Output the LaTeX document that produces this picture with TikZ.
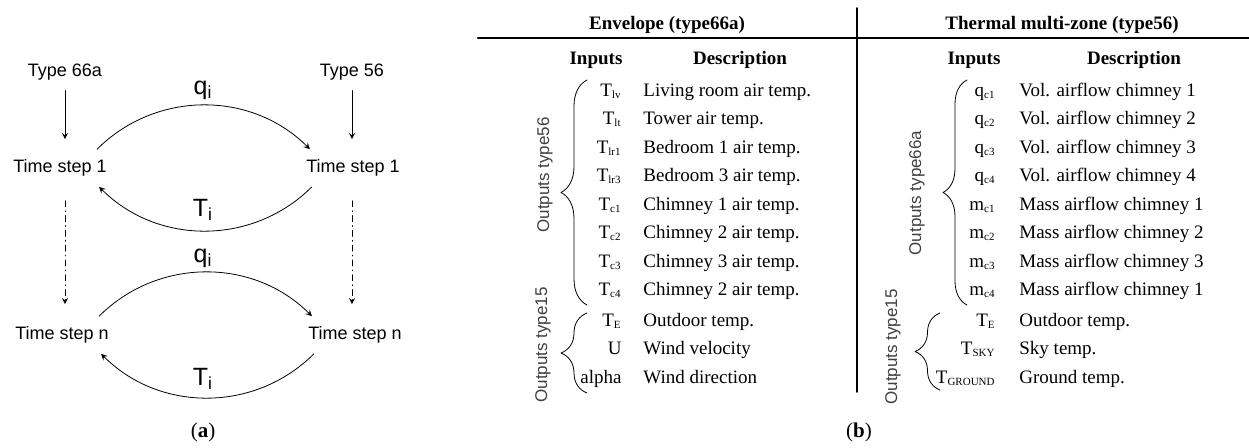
\documentclass[tikz,border=0pt]{standalone}
\usepackage{fontspec}
\setmainfont{Liberation Serif}
\setsansfont{Liberation Sans}
\usetikzlibrary{decorations.pathreplacing}
\newcommand{\sbs}[1]{\textsubscript{\fontsize{5.5}{6}\selectfont #1}}
\tikzset{
	tsbox/.style={font=\sffamily\fontsize{9}{10}\selectfont, inner sep=2pt},
	flow/.style={font=\sffamily\fontsize{12.5}{14}\selectfont, inner sep=0pt},
	inp/.style={anchor=east, inner sep=0pt, text height=7pt, text depth=2pt, font=\fontsize{9.5}{11}\selectfont},
	dsc/.style={anchor=west, inner sep=0pt, text height=7pt, text depth=2pt, font=\fontsize{9.5}{11}\selectfont},
	head/.style={inner sep=0pt, font=\bfseries\fontsize{9.5}{11}\selectfont},
	side/.style={rotate=90, inner sep=0pt, text=black!75, font=\sffamily\fontsize{8.5}{10}\selectfont},
	curly/.style={decorate, decoration={brace, amplitude=#1}},
}
\begin{document}
\begin{tikzpicture}[x=0.5pt, y=0.5pt, line join=round, line cap=round, >=stealth]
					\useasboundingbox (0,0) rectangle (1249,447);
					% (a) time steps
					\node[tsbox] (T66) at (65,375) {Type 66a};
					\node[tsbox] (T56) at (352,375) {Type 56};
					\node[tsbox] (S1L) at (60,279) {Time step 1};
					\node[tsbox] (S1R) at (353,279) {Time step 1};
					\node[tsbox] (SnL) at (62,112) {Time step n};
					\node[tsbox] (SnR) at (355,112) {Time step n};
					\node[flow] (q1) at (203,357) {q\textsubscript{i}};
					\node[flow] (t1) at (203,237) {T\textsubscript{i}};
					\node[flow] (q2) at (203,189) {q\textsubscript{i}};
					\node[flow] (t2) at (203,68) {T\textsubscript{i}};
					\node[font=\fontsize{10.5}{12}\selectfont] (capA) at (203,15) {(\textbf{a})};
					\draw[->, shorten <=3pt, shorten >=8pt] (T66.south) -- (T66.south |- S1L.north);
					\draw[->, shorten <=3pt, shorten >=8pt] (T56.south) -- (T56.south |- S1R.north);
					\draw[->, dashdotted, shorten <=10pt, shorten >=9pt] (S1L.south -| T66.south) -- (SnL.north -| T66.south);
					\draw[->, dashdotted, shorten <=10pt, shorten >=9pt] (S1R.south -| T56.south) -- (SnR.north -| T56.south);
					\draw[->] ([xshift=-7pt,yshift=3pt]S1L.north east) to[bend left=45] ([xshift=4pt,yshift=3pt]S1R.north west);
					\draw[->] ([xshift=5pt,yshift=-3pt]S1R.south west) to[bend left=45] ([xshift=-6pt,yshift=-3pt]S1L.south east);
					\draw[->] ([xshift=-7pt,yshift=3pt]SnL.north east) to[bend left=45] ([xshift=4pt,yshift=3pt]SnR.north west);
					\draw[->] ([xshift=5pt,yshift=-3pt]SnR.south west) to[bend left=45] ([xshift=-6pt,yshift=-3pt]SnL.south east);
					% (b) table
					\draw[line width=1.1pt] (478,409) -- (1249,409);
					\draw[line width=0.8pt] (857,439) -- (857,55);
					\node[head] (envH) at (667,422) {Envelope (type66a)};
					\node[head] (thmH) at (1062,422) {Thermal multi-zone (type56)};
					\node[head] (envI) at (596,387) {Inputs};
					\node[head] (envD) at (740,387) {Description};
					\node[head] (thmI) at (974,387) {Inputs};
					\node[head] (thmD) at (1134,387) {Description};
					% envelope rows
					\node[inp] (eI1) at (622,356) {T\sbs{lv}};
					\node[dsc] (eD1) at (643,356) {Living room air temp.};
					\node[inp] (eI2) at (622,327.5) {T\sbs{lt}};
					\node[dsc] (eD2) at (643,327.5) {Tower air temp.};
					\node[inp] (eI3) at (622,299) {T\sbs{lr1}};
					\node[dsc] (eD3) at (643,299) {Bedroom 1 air temp.};
					\node[inp] (eI4) at (622,270.5) {T\sbs{lr3}};
					\node[dsc] (eD4) at (643,270.5) {Bedroom 3 air temp.};
					\node[inp] (eI5) at (622,242) {T\sbs{c1}};
					\node[dsc] (eD5) at (643,242) {Chimney 1 air temp.};
					\node[inp] (eI6) at (622,213.5) {T\sbs{c2}};
					\node[dsc] (eD6) at (643,213.5) {Chimney 2 air temp.};
					\node[inp] (eI7) at (622,185) {T\sbs{c3}};
					\node[dsc] (eD7) at (643,185) {Chimney 3 air temp.};
					\node[inp] (eI8) at (622,156.5) {T\sbs{c4}};
					\node[dsc] (eD8) at (643,156.5) {Chimney 2 air temp.};
					\node[inp] (eI9) at (622,126) {T\sbs{E}};
					\node[dsc] (eD9) at (643,126) {Outdoor temp.};
					\node[inp] (eI10) at (622,97.5) {U};
					\node[dsc] (eD10) at (643,97.5) {Wind velocity};
					\node[inp] (eI11) at (622,69) {alpha};
					\node[dsc] (eD11) at (643,69) {Wind direction};
					\draw[curly=13pt] (587,142) -- (587,367);
					\draw[curly=13pt] (587,54) -- (587,134);
					\node[side] (eS1) at (545,272) {Outputs type56};
					\node[side] (eS2) at (543,102) {Outputs type15};
					% thermal multi-zone rows
					\node[inp] (tI1) at (996,356) {q\sbs{c1}};
					\node[dsc] (tD1) at (1019,356) {Vol. airflow chimney 1};
					\node[inp] (tI2) at (996,327.5) {q\sbs{c2}};
					\node[dsc] (tD2) at (1019,327.5) {Vol. airflow chimney 2};
					\node[inp] (tI3) at (996,299) {q\sbs{c3}};
					\node[dsc] (tD3) at (1019,299) {Vol. airflow chimney 3};
					\node[inp] (tI4) at (996,270.5) {q\sbs{c4}};
					\node[dsc] (tD4) at (1019,270.5) {Vol. airflow chimney 4};
					\node[inp] (tI5) at (996,242) {m\sbs{c1}};
					\node[dsc] (tD5) at (1019,242) {Mass airflow chimney 1};
					\node[inp] (tI6) at (996,213.5) {m\sbs{c2}};
					\node[dsc] (tD6) at (1019,213.5) {Mass airflow chimney 2};
					\node[inp] (tI7) at (996,185) {m\sbs{c3}};
					\node[dsc] (tD7) at (1019,185) {Mass airflow chimney 3};
					\node[inp] (tI8) at (996,156.5) {m\sbs{c4}};
					\node[dsc] (tD8) at (1019,156.5) {Mass airflow chimney 1};
					\node[inp] (tI9) at (996,126) {T\sbs{E}};
					\node[dsc] (tD9) at (1019,126) {Outdoor temp.};
					\node[inp] (tI10) at (996,97.5) {T\sbs{SKY}};
					\node[dsc] (tD10) at (1019,97.5) {Sky temp.};
					\node[inp] (tI11) at (996,69) {T\sbs{GROUND}};
					\node[dsc] (tD11) at (1019,69) {Ground temp.};
					\draw[curly=12pt] (967,142) -- (967,367);
					\draw[curly=12.5pt] (940,57) -- (940,134);
					\node[side] (tS1) at (917,254) {Outputs type66a};
					\node[side] (tS2) at (893,100) {Outputs type15};
					\node[font=\fontsize{10.5}{12}\selectfont] (capB) at (859,15) {(\textbf{b})};
				\end{tikzpicture}
\end{document}
